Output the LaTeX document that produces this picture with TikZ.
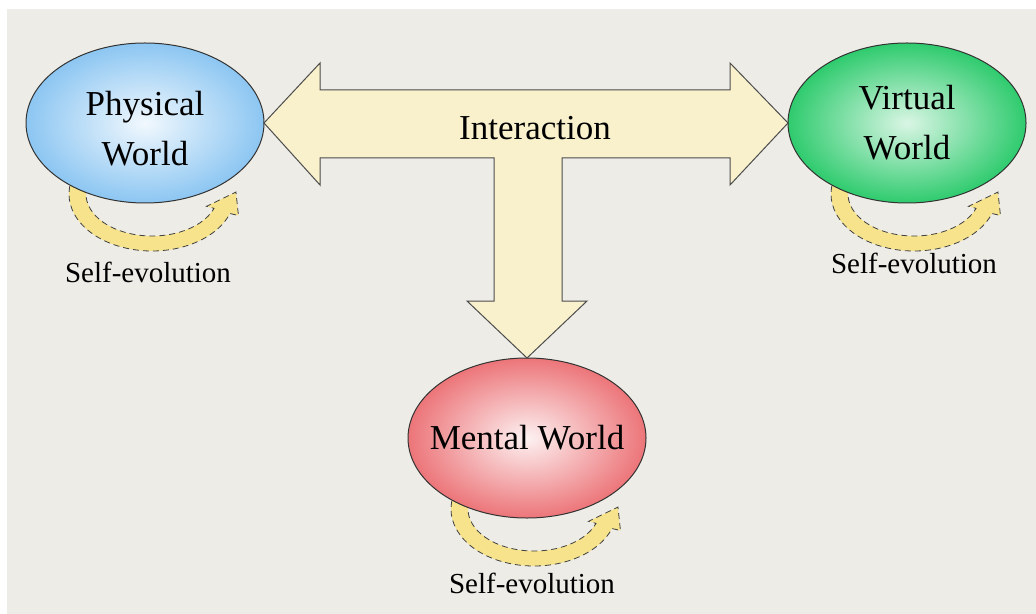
\documentclass[tikz,border=0pt]{standalone}
\usepackage{fontspec}
\setmainfont{Liberation Serif}
\usepackage{tikz}
\usetikzlibrary{shapes.geometric,calc,positioning}
\definecolor{bgpaper}{HTML}{EDECE6}
\definecolor{tcream}{HTML}{F8F1CC}
\definecolor{loopyellow}{HTML}{F6E38C}
\definecolor{physblue}{HTML}{8CC6F2}
\definecolor{virtgreen}{HTML}{2FCB6E}
\definecolor{mentred}{HTML}{EC7579}

\begin{document}
\begin{tikzpicture}[x=0.5pt,y=0.5pt,
  world/.style={ellipse,draw=black!80,line width=0.5pt,minimum width=119pt,minimum height=80pt,
    inner sep=0pt,outer sep=0pt},
  wlabel/.style={align=center,font=\fontsize{17.5}{25}\selectfont},
  evo/.style={anchor=base,font=\fontsize{14.5}{17}\selectfont},
  loopband/.style={fill=loopyellow,draw=black!75,densely dashed,line width=0.4pt},
  tarrow/.style={fill=tcream,draw=black!70,line width=0.5pt,line join=miter}]
\useasboundingbox (0,0) rectangle (1036,-614);
\fill[white] (0,0) rectangle (1036,-614);
\fill[bgpaper] (7,-9) rectangle (1036,-614);
\coordinate (pc) at (145,-123);
\coordinate (vc) at (907,-123);
\coordinate (mc) at (527,-438);
% self-evolution loops, under the worlds
\foreach \c in {pc,vc,mc}{
  \draw[loopband] ($(\c)+(7,-71)+(162:83 and 57)$) arc[start angle=162,end angle=340,x radius=83,y radius=57]
    -- ($(\c)+(7,-71)+(340:92 and 63)$) -- ($(\c)+(7,-71)+(2:84 and 55)$)
    -- ($(\c)+(7,-71)+(340:58 and 36)$) -- ($(\c)+(7,-71)+(340:66 and 42)$)
    arc[start angle=340,end angle=162,x radius=66,y radius=42] -- cycle;
}
\node[world,inner color=physblue!12,outer color=physblue] (phys) at (pc) {};
\node[world,inner color=virtgreen!18,outer color=virtgreen] (virt) at (vc) {};
\node[world,inner color=mentred!10,outer color=mentred] (ment) at (mc) {};
\node[wlabel] (physlbl) at ($(phys)+(0,-6)$) {Physical\\World};
\node[wlabel] (virtlbl) at (virt) {Virtual\\World};
\node[wlabel] (mentlbl) at (ment) {Mental World};
% interaction arrow
\draw[tarrow] (phys.east) -- (320,-63) -- (320,-90) -- (730,-90) -- (730,-63) -- (virt.west)
  -- (730,-185) -- (730,-158) -- (562,-158) -- (562,-301) -- (587,-301) -- (ment.north)
  -- (467,-301) -- (494,-301) -- (494,-158) -- (320,-158) -- (320,-185) -- cycle;
\node[anchor=base,font=\fontsize{17.5}{21}\selectfont] (inter) at (535,-140) {Interaction};
\node[evo] (physevo) at (148,-283) {Self-evolution};
\node[evo] (virtevo) at (914,-273) {Self-evolution};
\node[evo] (mentevo) at (532,-593) {Self-evolution};
\end{tikzpicture}
\end{document}
